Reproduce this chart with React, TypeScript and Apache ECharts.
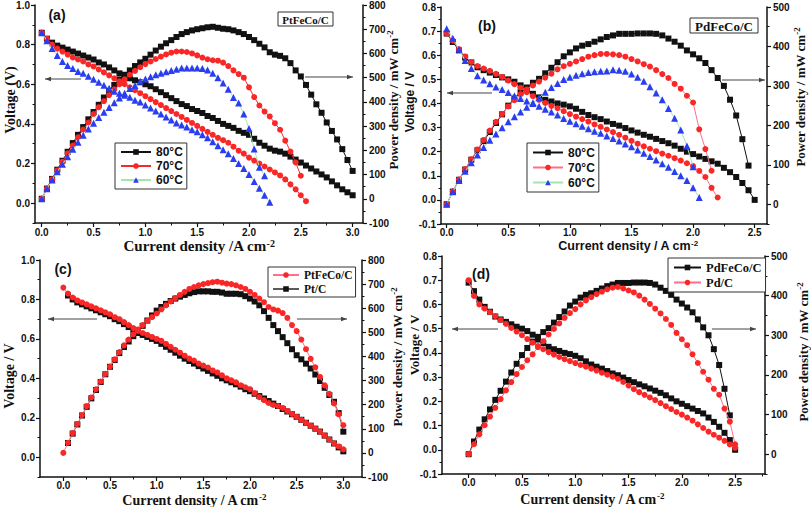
import React, { useEffect, useRef } from 'react';
import * as echarts from 'echarts';

// current density grid (A cm-2)
const I_GRID = [0, 0.05, 0.1, 0.15, 0.2, 0.25, 0.3, 0.35, 0.4, 0.45, 0.5, 0.55, 0.6, 0.65, 0.7, 0.75, 0.8, 0.85, 0.9, 0.95, 1.0, 1.05, 1.1, 1.15, 1.2, 1.25, 1.3, 1.35, 1.4, 1.45, 1.5, 1.55, 1.6, 1.65, 1.7, 1.75, 1.8, 1.85, 1.9, 1.95, 2.0, 2.05, 2.1, 2.15, 2.2, 2.25, 2.3, 2.35, 2.4, 2.45, 2.5, 2.55, 2.6, 2.65, 2.7, 2.75, 2.8, 2.85, 2.9, 2.95, 3.0];

// (a)/(c) PtFeCo/C at 80 °C
const V_PT80 = [0.86, 0.83, 0.81, 0.795, 0.785, 0.775, 0.765, 0.755, 0.745, 0.735, 0.725, 0.71, 0.70, 0.685, 0.67, 0.655, 0.64, 0.63, 0.62, 0.61, 0.60, 0.59, 0.575, 0.56, 0.545, 0.53, 0.515, 0.50, 0.49, 0.475, 0.465, 0.455, 0.44, 0.43, 0.415, 0.40, 0.39, 0.38, 0.365, 0.355, 0.345, 0.325, 0.305, 0.29, 0.275, 0.265, 0.26, 0.25, 0.235, 0.22, 0.205, 0.19, 0.175, 0.16, 0.145, 0.13, 0.11, 0.09, 0.07, 0.055, 0.04];
const P_PT80 = [0, 42, 82, 120, 157, 194, 230, 264, 296, 328, 358, 388, 418, 446, 470, 492, 512, 530, 548, 563, 578, 595, 612, 628, 642, 655, 668, 680, 688, 695, 700, 704, 708, 710, 706, 702, 700, 695, 688, 680, 668, 655, 640, 625, 605, 595, 590, 580, 560, 530, 505, 470, 430, 390, 355, 315, 280, 245, 205, 160, 115];
// (a) 70 °C
const V_PT70 = [0.86, 0.83, 0.80, 0.78, 0.765, 0.75, 0.735, 0.725, 0.715, 0.70, 0.69, 0.675, 0.66, 0.645, 0.63, 0.615, 0.60, 0.585, 0.57, 0.555, 0.54, 0.525, 0.51, 0.495, 0.48, 0.465, 0.45, 0.435, 0.42, 0.405, 0.39, 0.375, 0.36, 0.345, 0.33, 0.318, 0.305, 0.285, 0.265, 0.25, 0.23, 0.215, 0.20, 0.185, 0.17, 0.155, 0.14, 0.12, 0.095, 0.07, 0.04, 0.01];
const P_PT70 = [0, 42, 80, 117, 153, 188, 220, 254, 286, 315, 350, 378, 403, 428, 452, 473, 493, 512, 528, 543, 556, 567, 577, 587, 596, 603, 608, 608, 606, 600, 592, 583, 576, 572, 570, 562, 548, 530, 515, 500, 460, 420, 385, 360, 340, 312, 285, 240, 195, 150, 95];
// (a) 60 °C
const V_PT60 = [0.86, 0.82, 0.78, 0.745, 0.715, 0.695, 0.68, 0.665, 0.655, 0.64, 0.625, 0.61, 0.595, 0.58, 0.565, 0.555, 0.545, 0.535, 0.52, 0.51, 0.495, 0.48, 0.465, 0.45, 0.435, 0.42, 0.405, 0.395, 0.385, 0.37, 0.36, 0.345, 0.33, 0.31, 0.29, 0.27, 0.25, 0.225, 0.20, 0.175, 0.145, 0.11, 0.075, 0.04, 0.005];
const P_PT60 = [0, 41, 78, 112, 143, 174, 204, 233, 262, 288, 312, 336, 357, 377, 396, 416, 436, 455, 468, 485, 495, 504, 512, 518, 524, 530, 535, 540, 540, 540, 540, 538, 532, 518, 500, 478, 452, 418, 395, 350, 290, 205, 130, 95];
// (c) Pt/C (from 0.05 A cm-2)
const V_PTC = [0.82, 0.80, 0.785, 0.775, 0.765, 0.755, 0.745, 0.735, 0.725, 0.715, 0.70, 0.69, 0.675, 0.66, 0.645, 0.63, 0.62, 0.61, 0.60, 0.59, 0.575, 0.56, 0.545, 0.53, 0.515, 0.50, 0.488, 0.475, 0.462, 0.45, 0.438, 0.425, 0.413, 0.40, 0.39, 0.38, 0.37, 0.358, 0.345, 0.335, 0.322, 0.31, 0.298, 0.285, 0.272, 0.26, 0.245, 0.232, 0.218, 0.205, 0.19, 0.175, 0.16, 0.145, 0.13, 0.11, 0.09, 0.07, 0.05, 0.03];
const P_PTC = [41, 80, 118, 155, 191, 226, 261, 294, 326, 357, 385, 414, 439, 462, 484, 504, 527, 549, 570, 590, 605, 618, 630, 640, 648, 655, 662, 667, 670, 670, 670, 668, 668, 665, 660, 660, 660, 658, 650, 640, 628, 612, 588, 560, 530, 505, 480, 455, 430, 405, 388, 370, 350, 325, 298, 270, 240, 212, 165, 88];

// (b)/(d) PdFeCo/C at 80 °C
const V_PD80 = [0.69, 0.655, 0.62, 0.59, 0.57, 0.55, 0.538, 0.528, 0.518, 0.508, 0.50, 0.49, 0.475, 0.455, 0.44, 0.425, 0.415, 0.408, 0.40, 0.395, 0.388, 0.378, 0.365, 0.352, 0.343, 0.335, 0.325, 0.315, 0.308, 0.298, 0.288, 0.279, 0.27, 0.262, 0.253, 0.244, 0.235, 0.225, 0.212, 0.20, 0.19, 0.18, 0.17, 0.16, 0.15, 0.133, 0.115, 0.095, 0.07, 0.04, 0.0];
const P_PD80 = [0, 32, 62, 88, 113, 137, 160, 183, 206, 228, 250, 268, 284, 296, 308, 318, 332, 346, 360, 375, 385, 395, 402, 406, 412, 418, 424, 428, 432, 432, 432, 433, 433, 433, 432, 428, 420, 412, 402, 390, 380, 370, 358, 340, 320, 300, 265, 225, 165, 98];
// (b) 70 °C
const V_PD70 = [0.69, 0.66, 0.625, 0.595, 0.572, 0.555, 0.545, 0.535, 0.523, 0.51, 0.495, 0.48, 0.465, 0.447, 0.43, 0.415, 0.402, 0.39, 0.38, 0.368, 0.356, 0.345, 0.335, 0.325, 0.313, 0.303, 0.292, 0.281, 0.27, 0.258, 0.245, 0.233, 0.222, 0.212, 0.202, 0.192, 0.183, 0.173, 0.163, 0.152, 0.14, 0.12, 0.095, 0.05, 0.01];
const P_PD70 = [0, 33, 63, 89, 114, 139, 163, 187, 209, 229, 248, 264, 279, 291, 301, 311, 321, 331, 342, 350, 356, 362, 368, 374, 378, 381, 381, 380, 378, 374, 368, 362, 355, 349, 340, 330, 320, 305, 293, 275, 258, 190, 140, 85];
// (b) 60 °C
const V_PD60 = [0.71, 0.67, 0.625, 0.578, 0.545, 0.515, 0.497, 0.482, 0.468, 0.458, 0.445, 0.432, 0.42, 0.41, 0.40, 0.388, 0.376, 0.364, 0.352, 0.338, 0.326, 0.316, 0.305, 0.295, 0.285, 0.276, 0.265, 0.255, 0.244, 0.232, 0.22, 0.207, 0.193, 0.18, 0.165, 0.15, 0.135, 0.118, 0.10, 0.08, 0.05, 0.01];
const P_PD60 = [0, 32, 60, 84, 105, 125, 144, 162, 178, 194, 209, 222, 234, 246, 257, 270, 284, 296, 306, 316, 322, 327, 331, 334, 336, 337, 338, 341, 340, 337, 330, 322, 312, 298, 282, 265, 243, 218, 188, 148, 95];
// (d) Pd/C
const V_PDC = [0.70, 0.635, 0.60, 0.583, 0.568, 0.552, 0.536, 0.52, 0.503, 0.488, 0.473, 0.457, 0.442, 0.428, 0.415, 0.403, 0.393, 0.383, 0.374, 0.366, 0.358, 0.35, 0.343, 0.335, 0.327, 0.318, 0.31, 0.302, 0.293, 0.28, 0.265, 0.25, 0.238, 0.227, 0.216, 0.205, 0.193, 0.18, 0.168, 0.156, 0.145, 0.133, 0.12, 0.105, 0.09, 0.075, 0.062, 0.05, 0.037, 0.022, 0.008];
const P_PDC = [0, 25, 50, 73, 95, 117, 139, 161, 182, 202, 220, 237, 252, 270, 285, 302, 316, 330, 344, 356, 366, 378, 388, 396, 404, 410, 416, 420, 422, 418, 413, 408, 400, 390, 379, 367, 355, 341, 326, 306, 290, 275, 252, 230, 208, 188, 165, 150, 115, 82, 25];

// tick values
const X_T3 = [0, 0.5, 1.0, 1.5, 2.0, 2.5, 3.0];
const X_M3 = [0.25, 0.75, 1.25, 1.75, 2.25, 2.75];
const X_T25 = [0, 0.5, 1.0, 1.5, 2.0, 2.5];
const X_M25 = [0.25, 0.75, 1.25, 1.75, 2.25];
const X_M25D = [0.25, 0.75, 1.25, 1.75, 2.25, 2.75];
const V_T10 = [0, 0.2, 0.4, 0.6, 0.8, 1.0];
const V_M10 = [-0.1, 0.1, 0.3, 0.5, 0.7, 0.9];
const V_T08 = [-0.1, 0, 0.1, 0.2, 0.3, 0.4, 0.5, 0.6, 0.7, 0.8];
const V_M08 = [-0.05, 0.05, 0.15, 0.25, 0.35, 0.45, 0.55, 0.65, 0.75];
const P_T800 = [-100, 0, 100, 200, 300, 400, 500, 600, 700, 800];
const P_M800 = [-50, 50, 150, 250, 350, 450, 550, 650, 750];
const P_T500 = [0, 100, 200, 300, 400, 500];
const P_M500 = [-50, 50, 150, 250, 350, 450];

const BLACK = '#111111';
const RED = '#fa2727';
const BLUE = '#2b3cf2';
const GREEN = '#a4e5ae';
const PINK = '#ff6e8c';
const GRAY = '#5a5a5a';

const SANS = 'Liberation Sans';
const SERIF = 'Liberation Serif';

const PANELS = [
  { grid: { left: 35, top: 5, width: 328, height: 218 }, x: [-0.065, 3.1], xt: X_T3, xm: X_M3, v: [-0.1, 1.0], vt: V_T10, vm: V_M10, p: [-100, 800], pt: P_T800, pm: P_M800, xm0: 4 },
  { grid: { left: 441, top: 7, width: 326, height: 217 }, x: [-0.046, 2.6], xt: X_T25, xm: X_M25, v: [-0.1, 0.8], vt: V_T08, vm: V_M08, p: [-50, 500], pt: P_T500, pm: P_M500, xm0: 3 },
  { grid: { left: 40, top: 260, width: 322, height: 217 }, x: [-0.25, 3.2], xt: X_T3, xm: X_M3, v: [-0.1, 1.0], vt: V_T10, vm: V_M10, p: [-100, 800], pt: P_T800, pm: P_M800, xm0: 3 },
  { grid: { left: 442, top: 256, width: 323, height: 218 }, x: [-0.25, 2.78], xt: X_T25, xm: X_M25D, v: [-0.1, 0.8], vt: V_T08, vm: V_M08, p: [-50, 500], pt: P_T500, pm: P_M500, xm0: 3 },
];

const labelStyle = { fontFamily: SANS, fontWeight: 'bold' as const, fontSize: 10, color: '#111' };
const axisLine = { show: true, onZero: false, lineStyle: { color: '#111', width: 1.5 } };

function buildAxes() {
  const xAxis: any[] = [];
  const yAxis: any[] = [];
  PANELS.forEach((p, g) => {
    xAxis.push({
      type: 'value', gridIndex: g, min: p.x[0], max: p.x[1], position: 'bottom',
      axisLine, splitLine: { show: false },
      axisTick: { show: true, customValues: p.xt, length: 4, lineStyle: { color: '#111', width: 1.2 } },
      axisLabel: { ...labelStyle, margin: p.xm0, customValues: p.xt, formatter: (v: number) => v.toFixed(1) },
    });
    xAxis.push({
      type: 'value', gridIndex: g, min: p.x[0], max: p.x[1], position: 'bottom',
      axisLine: { show: false, onZero: false }, splitLine: { show: false }, axisLabel: { show: false },
      axisTick: { show: true, customValues: p.xm, length: 2.5, lineStyle: { color: '#111', width: 1 } },
    });
    yAxis.push({
      type: 'value', gridIndex: g, min: p.v[0], max: p.v[1], position: 'left',
      axisLine, splitLine: { show: false },
      axisTick: { show: true, customValues: p.vt, length: 4, lineStyle: { color: '#111', width: 1.2 } },
      axisLabel: { ...labelStyle, margin: 5, customValues: p.vt, formatter: (v: number) => v.toFixed(1) },
    });
    yAxis.push({
      type: 'value', gridIndex: g, min: p.v[0], max: p.v[1], position: 'left',
      axisLine: { show: false, onZero: false }, splitLine: { show: false }, axisLabel: { show: false },
      axisTick: { show: true, customValues: p.vm, length: 2.5, lineStyle: { color: '#111', width: 1 } },
    });
    yAxis.push({
      type: 'value', gridIndex: g, min: p.p[0], max: p.p[1], position: 'right',
      axisLine, splitLine: { show: false },
      axisTick: { show: true, customValues: p.pt, length: 4, lineStyle: { color: '#111', width: 1.2 } },
      axisLabel: { ...labelStyle, margin: 6, customValues: p.pt, formatter: (v: number) => String(v) },
    });
    yAxis.push({
      type: 'value', gridIndex: g, min: p.p[0], max: p.p[1], position: 'right',
      axisLine: { show: false, onZero: false }, splitLine: { show: false }, axisLabel: { show: false },
      axisTick: { show: true, customValues: p.pm, length: 2.5, lineStyle: { color: '#111', width: 1 } },
    });
  });
  return { xAxis, yAxis };
}

function curve(name: string, xs: number[], ys: number[], g: number, side: 0 | 2, symbol: string, color: string, lineColor: string, size: number, z: number) {
  return {
    type: 'line', name, xAxisIndex: 2 * g, yAxisIndex: 4 * g + side,
    data: ys.map((y, i) => [xs[i], y]),
    symbol, symbolSize: size, showSymbol: true, z,
    itemStyle: { color },
    lineStyle: { color: lineColor, width: 1 },
    emphasis: { disabled: true },
  };
}

function rotText(x: number, y: number, text: string, font: string, size: number, rich?: any) {
  return {
    type: 'text', x, y, rotation: Math.PI / 2, z: 20,
    style: { text, fontFamily: font, fontWeight: 'bold', fontSize: size, fill: '#111', align: 'center', verticalAlign: 'middle', rich },
  };
}
function hText(x: number, y: number, text: string, font: string, size: number, rich?: any) {
  return {
    type: 'text', x, y, z: 20,
    style: { text, fontFamily: font, fontWeight: 'bold', fontSize: size, fill: '#111', align: 'center', verticalAlign: 'middle', rich },
  };
}
function supRich(font: string, size: number) {
  return { s: { fontFamily: font, fontWeight: 'bold', fontSize: size, fill: '#111', verticalAlign: 'top', padding: [0, 0, size * 0.6, 0] } };
}
function arrow(x1: number, x2: number, y: number) {
  const d = x2 < x1 ? 1 : -1;
  return {
    type: 'group', z: 15,
    children: [
      { type: 'line', shape: { x1, y1: y, x2, y2: y }, style: { stroke: '#444', lineWidth: 1 } },
      { type: 'polygon', shape: { points: [[x2, y], [x2 + d * 6, y - 2.2], [x2 + d * 6, y + 2.2]] }, style: { fill: '#444' } },
    ],
  };
}
function boxLabel(x: number, y: number, w: number, h: number, text: string, size: number) {
  return {
    type: 'group', z: 15,
    children: [
      { type: 'rect', shape: { x, y, width: w, height: h }, style: { fill: '#fff', stroke: '#333', lineWidth: 1 } },
      { type: 'text', x: x + w / 2, y: y + h / 2 + 0.5, style: { text, fontFamily: SERIF, fontWeight: 'bold', fontSize: size, fill: '#111', align: 'center', verticalAlign: 'middle' } },
    ],
  };
}

export default function App() {
  const ref = useRef<HTMLDivElement>(null);
  useEffect(() => {
    if (!ref.current) return;
    const chart = echarts.init(ref.current, undefined, { renderer: 'svg' });
    const { xAxis, yAxis } = buildAxes();
    const I1 = I_GRID.slice(1);
    const series = [
      // (a)
      curve('80°C', I_GRID, V_PT80, 0, 0, 'rect', BLACK, BLACK, 6, 2),
      curve('80°C', I_GRID, P_PT80, 0, 2, 'rect', BLACK, BLACK, 6, 2),
      curve('70°C', I_GRID, V_PT70, 0, 0, 'circle', RED, RED, 6, 3),
      curve('70°C', I_GRID, P_PT70, 0, 2, 'circle', RED, RED, 6, 3),
      curve('60°C', I_GRID, V_PT60, 0, 0, 'triangle', BLUE, GREEN, 7, 4),
      curve('60°C', I_GRID, P_PT60, 0, 2, 'triangle', BLUE, GREEN, 7, 4),
      // (b)
      curve('80°C', I_GRID, V_PD80, 1, 0, 'rect', BLACK, BLACK, 6, 2),
      curve('80°C', I_GRID, P_PD80, 1, 2, 'rect', BLACK, BLACK, 6, 2),
      curve('70°C', I_GRID, V_PD70, 1, 0, 'circle', RED, PINK, 6, 3),
      curve('70°C', I_GRID, P_PD70, 1, 2, 'circle', RED, PINK, 6, 3),
      curve('60°C', I_GRID, V_PD60, 1, 0, 'triangle', BLUE, GREEN, 7, 4),
      curve('60°C', I_GRID, P_PD60, 1, 2, 'triangle', BLUE, GREEN, 7, 4),
      // (c)
      curve('Pt/C', I1, V_PTC, 2, 0, 'rect', BLACK, GRAY, 6, 2),
      curve('Pt/C', I1, P_PTC, 2, 2, 'rect', BLACK, GRAY, 6, 2),
      curve('PtFeCo/C', I_GRID, V_PT80, 2, 0, 'circle', RED, PINK, 6, 3),
      curve('PtFeCo/C', I_GRID, P_PT80, 2, 2, 'circle', RED, PINK, 6, 3),
      // (d)
      curve('PdFeCo/C', I_GRID, V_PD80, 3, 0, 'rect', BLACK, BLACK, 6, 2),
      curve('PdFeCo/C', I_GRID, P_PD80, 3, 2, 'rect', BLACK, BLACK, 6, 2),
      curve('Pd/C', I_GRID, V_PDC, 3, 0, 'circle', RED, PINK, 6, 3),
      curve('Pd/C', I_GRID, P_PDC, 3, 2, 'circle', RED, PINK, 6, 3),
    ];

    const legendBase = {
      orient: 'vertical', selectedMode: false, itemHeight: 7, itemGap: 2,
      borderColor: '#333', borderWidth: 1, backgroundColor: '#fff',
    };
    const tempLegendData = (redLine: string) => [
      { name: '80°C', itemStyle: { color: BLACK }, lineStyle: { color: BLACK } },
      { name: '70°C', itemStyle: { color: RED }, lineStyle: { color: redLine } },
      { name: '60°C', itemStyle: { color: BLUE }, lineStyle: { color: GREEN } },
    ];
    const legend = [
      { ...legendBase, left: 115, top: 143, itemWidth: 30, padding: [3, 4, 3, 5], data: tempLegendData(RED), textStyle: { fontFamily: SANS, fontWeight: 'bold', fontSize: 12, color: '#111', lineHeight: 11 } },
      { ...legendBase, left: 527, top: 143, itemWidth: 30, padding: [3, 4, 3, 5], data: tempLegendData(PINK), textStyle: { fontFamily: SANS, fontWeight: 'bold', fontSize: 12, color: '#111', lineHeight: 13 } },
      { ...legendBase, left: 268, top: 267, itemWidth: 26, padding: [2, 3, 2, 4], data: [
        { name: 'PtFeCo/C', itemStyle: { color: RED }, lineStyle: { color: PINK } },
        { name: 'Pt/C', itemStyle: { color: BLACK }, lineStyle: { color: GRAY } },
      ], textStyle: { fontFamily: SERIF, fontWeight: 'bold', fontSize: 11.5, color: '#111', lineHeight: 10 } },
      { ...legendBase, left: 668, top: 258, itemWidth: 27, padding: [3, 4, 3, 5], data: [
        { name: 'PdFeCo/C', itemStyle: { color: BLACK }, lineStyle: { color: BLACK } },
        { name: 'Pd/C', itemStyle: { color: RED }, lineStyle: { color: PINK } },
      ], textStyle: { fontFamily: SERIF, fontWeight: 'bold', fontSize: 12.5, color: '#111', lineHeight: 10 } },
    ];

    const graphic = [
      // axis names (a)
      rotText(10, 100, 'Voltage (V)', SERIF, 14),
      rotText(393, 100, 'Power density / mW cm{s|-2}', SERIF, 13, supRich(SERIF, 9)),
      hText(199, 246, 'Current density /A cm{s|-2}', SERIF, 15, supRich(SERIF, 10)),
      // (b)
      rotText(410, 102, 'Voltage / V', SANS, 12),
      rotText(800, 97, 'Power density / mW cm{s|-2}', SERIF, 13, supRich(SERIF, 9)),
      hText(628, 246, 'Current density / A cm{s|-2}', SANS, 12.5, supRich(SANS, 8)),
      // (c)
      rotText(9, 376, 'Voltage / V', SERIF, 14),
      rotText(397, 357, 'Power density / mW cm{s|-2}', SERIF, 13, supRich(SERIF, 9)),
      hText(194, 500, 'Current density / A cm{s|-2}', SERIF, 14, supRich(SERIF, 9)),
      // (d)
      rotText(414, 345, 'Voltage / V', SERIF, 13),
      rotText(803, 352, 'Power density / mW cm{s|-2}', SERIF, 13, supRich(SERIF, 9)),
      hText(592, 499, 'Current density / A cm{s|-2}', SERIF, 14, supRich(SERIF, 9)),
      // panel labels
      hText(57, 15, '(a)', SANS, 14),
      hText(487, 26, '(b)', SANS, 14),
      hText(63, 269, '(c)', SANS, 14),
      hText(481, 274, '(d)', SANS, 14),
      // boxed catalyst labels
      boxLabel(278, 12, 55, 14, 'PtFeCo/C', 11),
      boxLabel(690, 18, 68, 15, 'PdFeCo/C', 13),
      // arrows
      arrow(81, 45, 79), arrow(305, 353, 77),
      arrow(492, 447, 93), arrow(722, 765, 80),
      arrow(97, 48, 319), arrow(297, 347, 319),
      arrow(498, 452, 329), arrow(712, 756, 329),
    ];

    chart.setOption({
      animation: false,
      backgroundColor: '#fff',
      grid: PANELS.map((p) => ({ ...p.grid, containLabel: false })),
      xAxis, yAxis, series, legend, graphic,
      tooltip: { show: false },
    });
    return () => chart.dispose();
  }, []);
  return <div ref={ref} style={{ position: 'absolute', left: 0, top: 0, width: 811, height: 507, background: '#fff' }} />;
}
